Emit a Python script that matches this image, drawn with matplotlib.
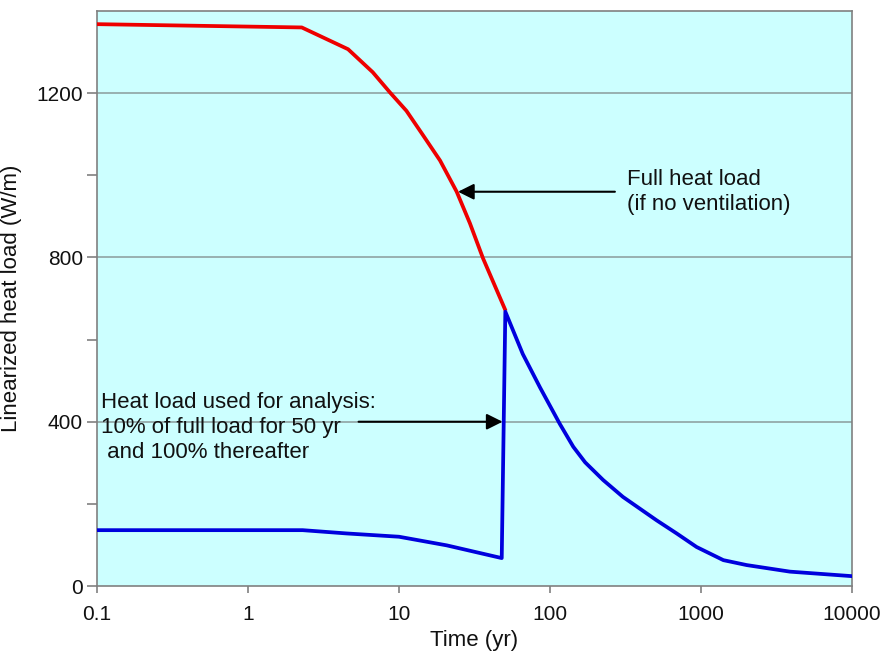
import matplotlib
matplotlib.use('Agg')
import matplotlib.pyplot as plt
from matplotlib.ticker import FixedLocator, NullLocator

plt.rcParams['font.family'] = ['Liberation Sans', 'DejaVu Sans']

# full heat load (no ventilation)
red_t = [0.1, 2.27, 4.6, 6.7, 8.7, 11.2, 14.4, 18.7, 24.1, 29.5, 36, 50.3]
red_q = [1368, 1360, 1307, 1251, 1202, 1157, 1098, 1036, 960, 883, 798, 674]

# heat load used for analysis
blue_t = [0.1, 1.4, 2.3, 4.5, 10, 20.7, 47.9, 50.6, 66, 86, 116, 142.6, 171, 225, 304, 508, 690,
          935, 1406, 2005, 3880, 10000]
blue_q = [136, 136, 136, 128, 120, 99, 68, 668, 565, 483, 395, 339, 301, 258, 217, 160, 128,
          95, 63, 51, 35, 24]

x_ticks = [0.1, 1, 10, 100, 1000, 10000]
x_tick_labels = ['0.1', '1', '10', '100', '1000', '10000']
y_major = [0, 400, 800, 1200]
y_minor = [200, 600, 1000]

fig = plt.figure(figsize=(8.89, 6.52), dpi=100)
ax = fig.add_axes([0.1091, 0.1012, 0.8493, 0.8819])
ax.set_facecolor('#ccffff')

ax.plot(red_t, red_q, color='#ee0000', lw=2.7, zorder=3)
ax.plot(blue_t, blue_q, color='#0000dd', lw=2.7, zorder=4)

ax.set_xscale('log')
ax.set_xlim(0.1, 10000)
ax.set_ylim(0, 1400)
ax.xaxis.set_major_locator(FixedLocator(x_ticks))
ax.xaxis.set_minor_locator(NullLocator())
ax.set_xticklabels(x_tick_labels)
ax.yaxis.set_major_locator(FixedLocator(y_major))
ax.yaxis.set_minor_locator(FixedLocator(y_minor))

for y in y_major[1:]:
    ax.axhline(y, color='#8fa3a3', lw=1.2, zorder=1)

for s in ax.spines.values():
    s.set_color('#808080')
    s.set_linewidth(1.2)

ax.tick_params(axis='both', which='both', direction='out', color='#808080', labelsize=15, labelcolor='#111111')
ax.tick_params(axis='y', which='both', length=7, width=1.2, pad=3)
ax.tick_params(axis='x', which='major', length=5, width=1.2, pad=9)

ax.set_xlabel('Time (yr)', fontsize=16, labelpad=4, color='#111111')
ax.set_ylabel('Linearized heat load (W/m)', fontsize=16, color='#111111')
ax.yaxis.set_label_coords(-0.099, 0.5)

arrow = dict(arrowstyle='-|>', color='black', lw=1.5, mutation_scale=24, shrinkA=0, shrinkB=0)

ax.annotate('', xy=(24.6, 960), xytext=(269, 960), arrowprops=arrow, zorder=5)
ax.text(324, 960, 'Full heat load\n(if no ventilation)', fontsize=16, ha='left', va='center',
        color='#111111', linespacing=1.25)

ax.annotate('', xy=(48.5, 400), xytext=(5.4, 400), arrowprops=arrow, zorder=5)
ax.text(0.107, 387, 'Heat load used for analysis:\n10% of full load for 50 yr\n and 100% thereafter',
        fontsize=16, ha='left', va='center', color='#111111', linespacing=1.25)

fig.savefig('out.png', dpi=100)
